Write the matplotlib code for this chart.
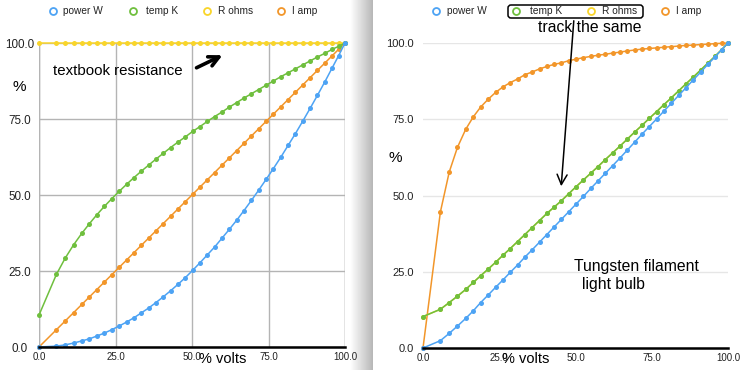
import numpy as np
import matplotlib
matplotlib.use("Agg")
import matplotlib.pyplot as plt
from matplotlib.lines import Line2D
from matplotlib.patches import FancyBboxPatch
from matplotlib.transforms import IdentityTransform

plt.rcParams['font.family'] = ['Liberation Sans', 'DejaVu Sans']

# x axis: percent of full voltage
volts = [0, 5.7, 8.6, 11.3, 14.0, 16.5, 18.9, 21.4, 23.8, 26.2, 28.6, 31.0, 33.4, 35.8,
         38.2, 40.6, 43.0, 45.4, 47.8, 50.2, 52.6, 55.0, 57.4, 59.8, 62.2, 64.6, 67.0,
         69.4, 71.8, 74.2, 76.6, 79.0, 81.4, 83.8, 86.2, 88.6, 91.0, 93.4, 95.8, 97.9, 100]

# left chart: textbook (constant resistance)
left_power = [0, 0.3, 0.7, 1.3, 2.0, 2.7, 3.6, 4.6, 5.7, 6.9, 8.2, 9.6, 11.2, 12.8, 14.6,
              16.5, 18.5, 20.6, 22.8, 25.2, 27.7, 30.3, 32.9, 35.8, 38.7, 41.7, 44.9, 48.2,
              51.6, 55.1, 58.7, 62.4, 66.3, 70.2, 74.3, 78.5, 82.8, 87.2, 91.8, 95.8, 100]
left_temp = [10.5, 23.9, 29.3, 33.6, 37.4, 40.6, 43.5, 46.3, 48.8, 51.2, 53.5, 55.7, 57.8,
             59.8, 61.8, 63.7, 65.6, 67.4, 69.1, 70.9, 72.5, 74.2, 75.8, 77.3, 78.9, 80.4,
             81.9, 83.3, 84.7, 86.1, 87.5, 88.9, 90.2, 91.5, 92.8, 94.1, 95.4, 96.6, 97.9,
             98.9, 100]
left_ohms = [100.0] * len(volts)
left_amp = [0, 5.7, 8.6, 11.3, 14.0, 16.5, 18.9, 21.4, 23.8, 26.2, 28.6, 31.0, 33.4, 35.8,
            38.2, 40.6, 43.0, 45.4, 47.8, 50.2, 52.6, 55.0, 57.4, 59.8, 62.2, 64.6, 67.0,
            69.4, 71.8, 74.2, 76.6, 79.0, 81.4, 83.8, 86.2, 88.6, 91.0, 93.4, 95.8, 97.9, 100]

# right chart: tungsten filament light bulb
right_power = [0, 2.4, 4.8, 7.2, 9.7, 12.2, 14.9, 17.4, 19.9, 22.3, 24.8, 27.2, 29.8, 32.2,
               34.7, 37.2, 39.7, 42.2, 44.7, 47.2, 49.7, 52.3, 54.8, 57.3, 59.8, 62.3, 64.9,
               67.5, 70.1, 72.6, 75.1, 77.7, 80.2, 82.8, 85.3, 87.9, 90.4, 93.0, 95.5, 97.8, 100]
right_temp = [10.3, 12.7, 14.9, 17.0, 19.2, 21.5, 23.7, 25.9, 28.1, 30.4, 32.6, 34.9, 37.2,
              39.5, 41.8, 44.1, 46.2, 48.3, 50.6, 52.9, 55.1, 57.3, 59.5, 61.8, 64.0, 66.2,
              68.5, 70.8, 73.0, 75.3, 77.5, 79.8, 82.0, 84.3, 86.6, 88.8, 91.1, 93.4, 95.7,
              97.8, 100]
right_ohms = list(right_temp)  # hidden under temp K: they track the same
right_amp = [0, 44.6, 57.7, 65.8, 71.7, 75.8, 79.0, 81.6, 83.8, 85.6, 87.0, 88.2, 89.6, 90.5,
             91.5, 92.3, 93.0, 93.5, 94.2, 94.7, 95.2, 95.6, 96.0, 96.3, 96.7, 97.0, 97.4,
             97.7, 98.0, 98.2, 98.4, 98.6, 98.8, 99.0, 99.2, 99.3, 99.5, 99.6, 99.8, 99.9, 100]

labels = ['power W', 'temp K', 'R ohms', 'I amp']
colors = ['#4da3f4', '#6fbf3e', '#f9d52a', '#f2962a']
ticks = [0, 25, 50, 75, 100]
tick_text = ['0.0', '25.0', '50.0', '75.0', '100.0']

W, H = 748, 370
fig = plt.figure(figsize=(W / 100, H / 100), dpi=100)


def box(x0, y0, x1, y1):
    return [x0 / W, 1 - y1 / H, (x1 - x0) / W, (y1 - y0) / H]


def fx(x):
    return x / W


def fy(y):
    return 1 - y / H


# shadow between the two screenshots (kept underneath everything)
shade = fig.add_axes(box(350, 0, 373, H))
grad = np.linspace(1.0, 0.72, 64).reshape(1, -1)
shade.imshow(grad, aspect='auto', cmap='gray', vmin=0, vmax=1, extent=[0, 1, 0, 1])
shade.axis('off')
shade.set_zorder(-5)

axL = fig.add_axes(box(39, 43, 345, 347))
axR = fig.add_axes(box(423, 43, 728, 348))
axL.patch.set_alpha(0)
axR.patch.set_alpha(0)


def draw(ax, series):
    # first series drawn on top
    for i, (vals, col) in enumerate(zip(series, colors)):
        ax.plot(volts, vals, color=col, lw=1.1, marker='o', ms=3.6, mec='none',
                zorder=10 - i, clip_on=False)
    ax.set_xlim(0, 100)
    ax.set_ylim(0, 100)
    ax.set_xticks(ticks)
    ax.set_xticklabels(tick_text)
    ax.set_yticks(ticks)
    ax.set_yticklabels(tick_text)
    ax.tick_params(length=0, labelsize=7, colors='#222222')
    ax.tick_params(axis='y', labelsize=8)
    ax.tick_params(axis='x', pad=3.6)
    for s in ['top', 'right', 'left']:
        ax.spines[s].set_visible(False)
    ax.spines['bottom'].set_color('black')
    ax.spines['bottom'].set_linewidth(1.8)
    ax.spines['bottom'].set_zorder(12)


draw(axL, [left_power, left_temp, left_ohms, left_amp])
draw(axR, [right_power, right_temp, right_ohms, right_amp])

# left: full gray grid
axL.grid(True, color='#b4b4b4', lw=1)
axL.axvline(0, color='#b4b4b4', lw=1, zorder=1)
axL.axvline(100, color='#b4b4b4', lw=1, zorder=1)
axL.set_axisbelow(True)
axL.tick_params(axis='y', pad=13.7, labelsize=8.4)
for t in axL.get_yticklabels():
    t.set_ha('center')

# right: light horizontal grid only
axR.grid(True, axis='y', color='#e6e6e6', lw=1)
axR.set_axisbelow(True)
axR.tick_params(axis='y', pad=6.8)

# legends
for mx, tx, lab in [(53, 63, 'power W'), (133, 146, 'temp K'), (207, 218, 'R ohms'),
                    (281, 292, 'I amp'),
                    (436, 447, 'power W'), (516, 530, 'temp K'), (591, 602, 'R ohms'),
                    (665, 676, 'I amp')]:
    col = colors[labels.index(lab)]
    fig.add_artist(Line2D([fx(mx)], [fy(11)], marker='o', ms=5, mfc='white', mec=col,
                          mew=1.3, transform=fig.transFigure))
    fig.text(fx(tx), fy(11), lab, fontsize=7.3, va='center', color='#222222')

# axis titles
fig.text(fx(19), fy(87), '%', fontsize=11, ha='center', va='center')
fig.text(fx(395), fy(158), '%', fontsize=11, ha='center', va='center')
fig.text(fx(199), fy(359), '% volts', fontsize=10.5, ha='left', va='center')
fig.text(fx(502), fy(359), '% volts', fontsize=10.5, ha='left', va='center')

# left annotation
fig.text(fx(53), fy(71), 'textbook resistance', fontsize=10.8, va='center')
axL.annotate('', xy=(fx(225), fy(54)), xytext=(fx(194), fy(69)),
             xycoords='figure fraction', textcoords='figure fraction',
             arrowprops=dict(arrowstyle='->', lw=2.6, color='black', mutation_scale=18))

# right annotations
fig.add_artist(FancyBboxPatch((508, H - 18), 135, 13,
                              boxstyle='round,pad=0,rounding_size=3',
                              fc='none', ec='black', lw=1.1,
                              transform=IdentityTransform()))
fig.text(fx(538), fy(28), 'track the same', fontsize=11.3, va='center')
axR.annotate('', xy=(fx(561), fy(189)), xytext=(fx(574), fy(18)),
             xycoords='figure fraction', textcoords='figure fraction',
             arrowprops=dict(arrowstyle='->', lw=1.1, color='black', mutation_scale=18),
             zorder=20)
fig.text(fx(574), fy(267), 'Tungsten filament', fontsize=11.3, va='center')
fig.text(fx(582), fy(285), 'light bulb', fontsize=11.3, va='center')

fig.savefig('out.png', dpi=100)
